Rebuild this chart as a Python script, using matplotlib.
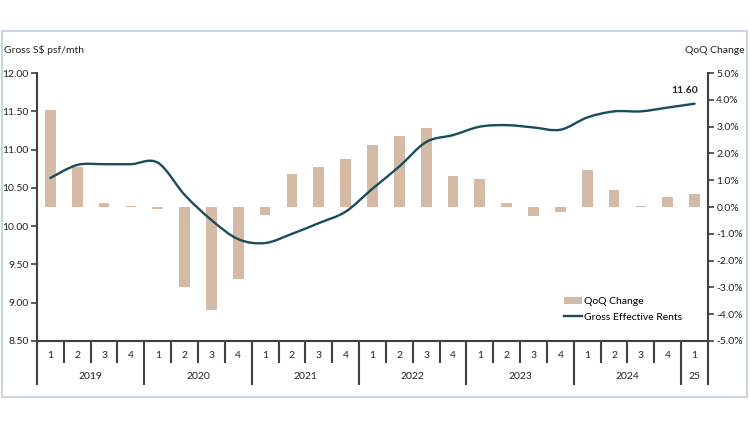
import matplotlib
matplotlib.use("Agg")
import matplotlib.pyplot as plt
import matplotlib.transforms as mtransforms
from matplotlib.patches import Rectangle, Patch, PathPatch
from matplotlib.path import Path
from matplotlib.lines import Line2D

plt.rcParams['font.family'] = ['Lato', 'DejaVu Sans']

# quarters 2019Q1 .. 2025Q1
quarters = ["1", "2", "3", "4"] * 6 + ["1"]
years = ["2019", "2020", "2021", "2022", "2023", "2024", "25"]
# gross effective rents, S$ psf/mth
rents = [10.63, 10.80, 10.81, 10.81, 10.83, 10.41, 10.08, 9.83, 9.78, 9.90,
         10.04, 10.19, 10.49, 10.78, 11.10, 11.19, 11.30, 11.32, 11.29, 11.26,
         11.42, 11.50, 11.50, 11.55, 11.60]
# quarter-on-quarter change, %
qoq = [3.64, 1.50, 0.16, 0.03, -0.08, -2.97, -3.84, -2.67, -0.30, 1.23,
       1.48, 1.78, 2.31, 2.65, 2.96, 1.17, 1.04, 0.15, -0.34, -0.17,
       1.38, 0.63, 0.03, 0.36, 0.47]

bar_color = "#D5BBA6"
line_color = "#1A4C5C"
axis_color = "#404040"
text_color = "#222222"


def smooth_path(xs, ys):
    # Excel-style smoothed line: cubic bezier through each point
    n = len(xs)
    verts = [(xs[0], ys[0])]
    codes = [Path.MOVETO]
    for i in range(n - 1):
        x0, y0 = xs[max(i - 1, 0)], ys[max(i - 1, 0)]
        x1, y1 = xs[i], ys[i]
        x2, y2 = xs[i + 1], ys[i + 1]
        x3, y3 = xs[min(i + 2, n - 1)], ys[min(i + 2, n - 1)]
        verts += [(x1 + (x2 - x0) / 6, y1 + (y2 - y0) / 6),
                  (x2 - (x3 - x1) / 6, y2 - (y3 - y1) / 6),
                  (x2, y2)]
        codes += [Path.CURVE4] * 3
    return Path(verts, codes)


fig = plt.figure(figsize=(7.5, 4.3), dpi=100)
fig.patches.append(Rectangle((0.002, 0.077), 0.994, 0.851, transform=fig.transFigure,
                             fill=False, edgecolor="#C9D5E2", linewidth=1.5))

ax = fig.add_axes([0.0493, 0.207, 0.8947, 0.623])
ax2 = ax.twinx()
ax.set_zorder(2)
ax.patch.set_visible(False)

x = list(range(len(rents)))

# bars on the right (percent) axis
ax2.bar(x, qoq, width=0.4, color=bar_color, zorder=1)
ax2.set_ylim(-5, 5)
ax2.set_yticks(range(-5, 6))
ax2.set_yticklabels(["%.1f%%" % v for v in range(-5, 6)])

# rent line on the left axis
ax.add_patch(PathPatch(smooth_path(x, rents), facecolor="none", edgecolor=line_color,
                       linewidth=1.7, capstyle="round", zorder=3))
ax.set_ylim(8.5, 12.0)
ax.set_yticks([8.5 + 0.5 * i for i in range(8)])
ax.set_yticklabels(["%.2f" % (8.5 + 0.5 * i) for i in range(8)])
ax.set_xlim(-0.5, len(rents) - 0.5)

ax.annotate("%.2f" % rents[-1], (x[-1], rents[-1]), xytext=(-7, 6),
            textcoords="offset points", ha="center", va="bottom",
            fontsize=7.5, fontweight="bold", color=text_color)

for a in (ax, ax2):
    for s in a.spines.values():
        s.set_visible(False)
ax.spines["left"].set_visible(True)
ax.spines["bottom"].set_visible(True)
ax2.spines["right"].set_visible(True)
for s in ("left", "bottom"):
    ax.spines[s].set_color(axis_color)
    ax.spines[s].set_linewidth(1.5)
ax2.spines["right"].set_color(axis_color)
ax2.spines["right"].set_linewidth(1.5)

ax.tick_params(axis="y", direction="out", length=4, width=1.2, color=axis_color,
               labelsize=7.5, labelcolor=text_color, pad=2)
ax2.tick_params(axis="y", direction="out", length=4, width=1.2, color=axis_color,
                labelsize=7.5, labelcolor=text_color, pad=2)

# category axis: quarter separators (minor) and year separators (major)
year_edges = [-0.5, 3.5, 7.5, 11.5, 15.5, 19.5, 23.5, 24.5]
ax.set_xticks(year_edges)
ax.set_xticklabels([])
ax.set_xticks([i - 0.5 for i in range(len(rents) + 1)], minor=True)
ax.tick_params(axis="x", which="major", direction="out", length=32, width=1.5, color=axis_color)
ax.tick_params(axis="x", which="minor", direction="out", length=16, width=1.5, color=axis_color)

trans = mtransforms.blended_transform_factory(ax.transData, ax.transAxes)
for i, q in enumerate(quarters):
    ax.text(i, -0.056, q, transform=trans, ha="center", va="center",
            fontsize=7.5, color=text_color)
for j, yr in enumerate(years):
    mid = (year_edges[j] + year_edges[j + 1]) / 2
    ax.text(mid, -0.131, yr, transform=trans, ha="center", va="center",
            fontsize=7.5, color=text_color)

fig.text(0.006, 0.883, "Gross S$ psf/mth", fontsize=7.5, color=text_color, va="center")
fig.text(0.993, 0.883, "QoQ Change", fontsize=7.5, color=text_color, va="center", ha="right")

handles = [Patch(facecolor=bar_color, edgecolor="none"),
           Line2D([0], [0], color=line_color, linewidth=1.7)]
ax.legend(handles, ["QoQ Change", "Gross Effective Rents"], loc="upper left",
          bbox_to_anchor=(0.786, 0.163), frameon=False, fontsize=7.5,
          handlelength=1.7, handleheight=0.6, handletextpad=0.15, labelspacing=0.6,
          borderaxespad=0, borderpad=0)

fig.savefig("out.png", dpi=100)
